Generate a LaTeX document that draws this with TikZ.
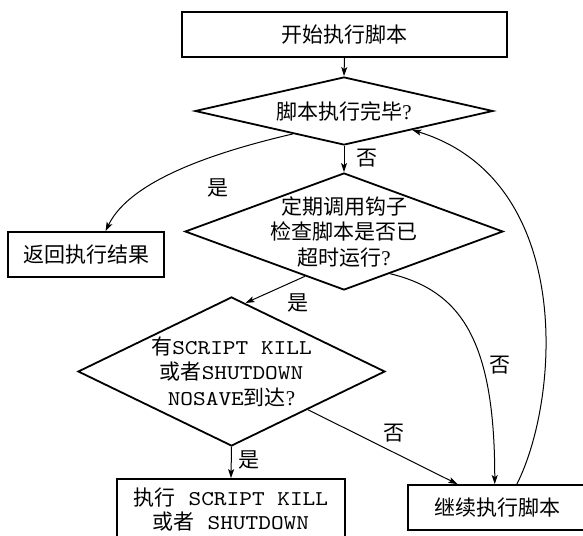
\documentclass[tikz,border=0pt]{standalone}
\usepackage{fontspec}
\setmainfont{Noto Sans CJK SC}
\setmonofont{lmmono10-regular.otf}[FakeStretch=1.15]
\newfontfamily\qfont{Liberation Serif}
\usetikzlibrary{shapes.geometric,calc,arrows.meta}
\newcommand{\qmk}{{\qfont ?}}
\begin{document}
\begin{tikzpicture}[x=1pt,y=-1pt,
  every node/.style={font=\fontsize{21}{25.5}\selectfont},
  box/.style={draw,line width=1.8pt,rectangle,inner sep=0pt},
  dia/.style={draw,line width=1.8pt,diamond,inner xsep=-20pt,inner ysep=-15pt,align=center},
  conn/.style={line width=1pt,-{Stealth[length=9pt,width=6pt,inset=2pt]}},
  lbl/.style={inner sep=0pt}]
\useasboundingbox (0,0) rectangle (583,535);
\clip (0,0) rectangle (583,535);

\node[box,minimum width=325pt,minimum height=45pt] (top) at (344.5,34.5) {开始执行脚本};
\node[dia,minimum width=298pt,minimum height=68pt,aspect=4.4] (d1) at (344,111) {脚本执行完毕\qmk};
\node[dia,minimum width=318pt,minimum height=117pt,aspect=2.7] (d2) at (344,231.5) {定期调用钩子\\检查脚本是否已\\超时运行\qmk};
\node[box,minimum width=156pt,minimum height=45pt] (ret) at (86,254.5) {返回执行结果};
\node[dia,minimum width=307pt,minimum height=149pt,aspect=2.06] (d3) at (231.5,371.5) {有\texttt{SCRIPT KILL}\\或者\texttt{SHUTDOWN}\\\texttt{NOSAVE}到达\qmk};
\node[box,minimum width=228pt,minimum height=62pt,align=center,font=\fontsize{21}{24}\selectfont] (exec) at (231,510) {执行\texttt{\ SCRIPT KILL}\\或者\texttt{\ SHUTDOWN}};
\node[box,minimum width=240pt,minimum height=45pt] (cont) at (528,507.5) {继续执行脚本\kern62pt\relax};

\draw[conn] (top.south) -- (d1.north);
\draw[conn] (d1.south) -- (d2.north);
\draw[conn] (d3.south) -- (exec.north);
\draw[conn] ($(d1.south)!0.342!(d1.west)$) .. controls +(-73,17) and +(25,-52) .. ($(ret.north west)!0.624!(ret.north east)$);
\draw[conn] ($(d2.south)!0.245!(d2.west)$) -- ($(d3.north)!0.091!(d3.east)$);
\draw[conn] ($(d3.south)!0.494!(d3.east)$) -- ($(cont.north west)!0.208!(cont.north east)$);
\draw[conn] ($(d2.south)!0.289!(d2.east)$) .. controls +(70,17) and +(0,-145) .. ($(cont.north west)!0.3625!(cont.north east)$);
\draw[conn] ($(cont.north west)!0.454!(cont.north east)$) .. controls +(43,-85) and +(163,50) .. ($(d1.south)!0.456!(d1.east)$);

\node[lbl] (l1) at (367,158) {否};
\node[lbl] (l2) at (218,188) {是};
\node[lbl] (l3) at (298,303) {是};
\node[lbl] (l4) at (500,365) {否};
\node[lbl] (l5) at (394,433) {否};
\node[lbl] (l6) at (249,460) {是};
\end{tikzpicture}
\end{document}
